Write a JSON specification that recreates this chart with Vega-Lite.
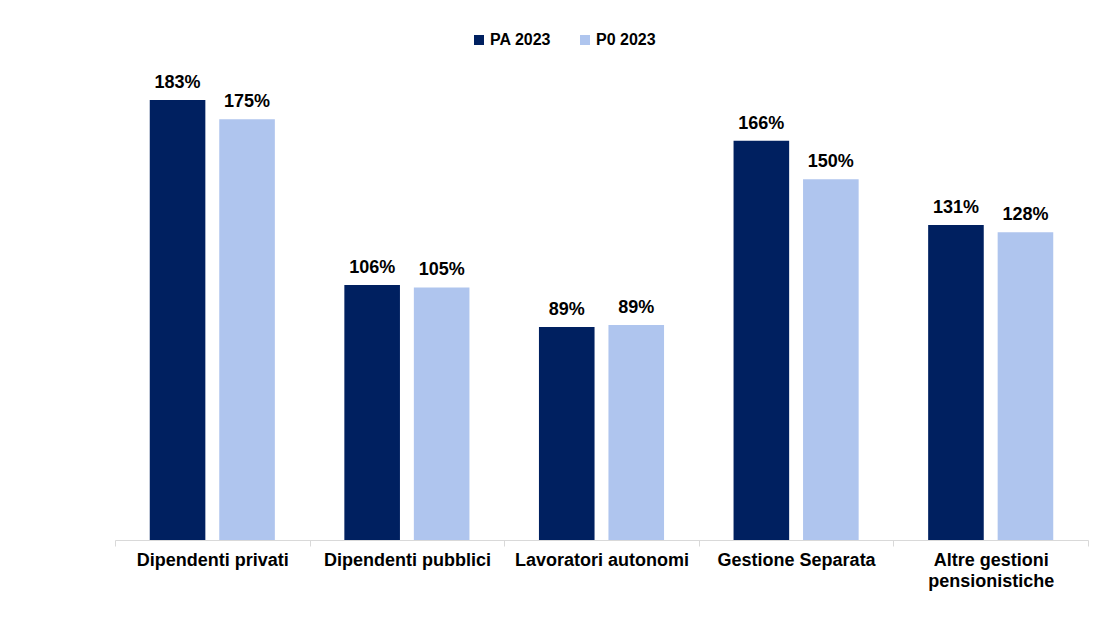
{
  "$schema": "https://vega.github.io/schema/vega-lite/v6.json",
  "autosize": {"type": "none"},
  "width": 973,
  "height": 481,
  "padding": {"left": 115, "top": 59, "right": 14, "bottom": 95},
  "background": "white",
  "config": {
    "view": {"stroke": null},
    "font": "Liberation Sans"
  },
  "data": {
    "values": [
      {"categoria": "Dipendenti privati", "serie": "PA 2023", "valore": 1.83},
      {"categoria": "Dipendenti privati", "serie": "P0 2023", "valore": 1.75},
      {"categoria": "Dipendenti pubblici", "serie": "PA 2023", "valore": 1.06},
      {"categoria": "Dipendenti pubblici", "serie": "P0 2023", "valore": 1.05},
      {"categoria": "Lavoratori autonomi", "serie": "PA 2023", "valore": 0.886},
      {"categoria": "Lavoratori autonomi", "serie": "P0 2023", "valore": 0.894},
      {"categoria": "Gestione Separata", "serie": "PA 2023", "valore": 1.66},
      {"categoria": "Gestione Separata", "serie": "P0 2023", "valore": 1.50},
      {"categoria": "Altre gestioni pensionistiche", "serie": "PA 2023", "valore": 1.31},
      {"categoria": "Altre gestioni pensionistiche", "serie": "P0 2023", "valore": 1.28}
    ]
  },
  "encoding": {
    "x": {
      "field": "categoria",
      "type": "nominal",
      "sort": null,
      "scale": {"paddingInner": 0, "paddingOuter": 0},
      "axis": {
        "title": null,
        "labelAngle": 0,
        "labelFont": "Liberation Sans",
        "labelFontSize": 18,
        "labelFontWeight": "bold",
        "labelColor": "#000000",
        "labelPadding": 5,
        "labelLineHeight": 21,
        "labelExpr": "datum.label == 'Altre gestioni pensionistiche' ? ['Altre gestioni', 'pensionistiche'] : datum.label",
        "domainColor": "#d9d9d9",
        "domainWidth": 1,
        "tickColor": "#d9d9d9",
        "tickSize": 6,
        "tickBand": "extent"
      }
    },
    "xOffset": {
      "field": "serie",
      "type": "nominal",
      "sort": ["PA 2023", "P0 2023"],
      "scale": {"paddingInner": 0.2, "paddingOuter": 0.5}
    },
    "y": {
      "field": "valore",
      "type": "quantitative",
      "scale": {"domain": [0, 2], "nice": false},
      "axis": null
    }
  },
  "layer": [
    {
      "mark": {"type": "bar"},
      "encoding": {
        "color": {
          "field": "serie",
          "type": "nominal",
          "scale": {"domain": ["PA 2023", "P0 2023"], "range": ["#002060", "#AFC5EE"]},
          "legend": {
            "title": null,
            "orient": "none",
            "direction": "horizontal",
            "legendX": 356,
            "legendY": -27,
            "symbolType": "square",
            "symbolSize": 100,
            "symbolStrokeWidth": 0,
            "labelFont": "Liberation Sans",
            "labelFontSize": 16,
            "labelFontWeight": "bold",
            "labelColor": "#000000",
            "labelOffset": 3,
            "columnPadding": 25
          }
        }
      }
    },
    {
      "mark": {
        "type": "text",
        "baseline": "alphabetic",
        "dy": -12,
        "font": "Liberation Sans",
        "fontSize": 18,
        "fontWeight": "bold",
        "color": "#000000"
      },
      "encoding": {
        "text": {"field": "valore", "type": "quantitative", "format": ".0%"}
      }
    }
  ]
}
